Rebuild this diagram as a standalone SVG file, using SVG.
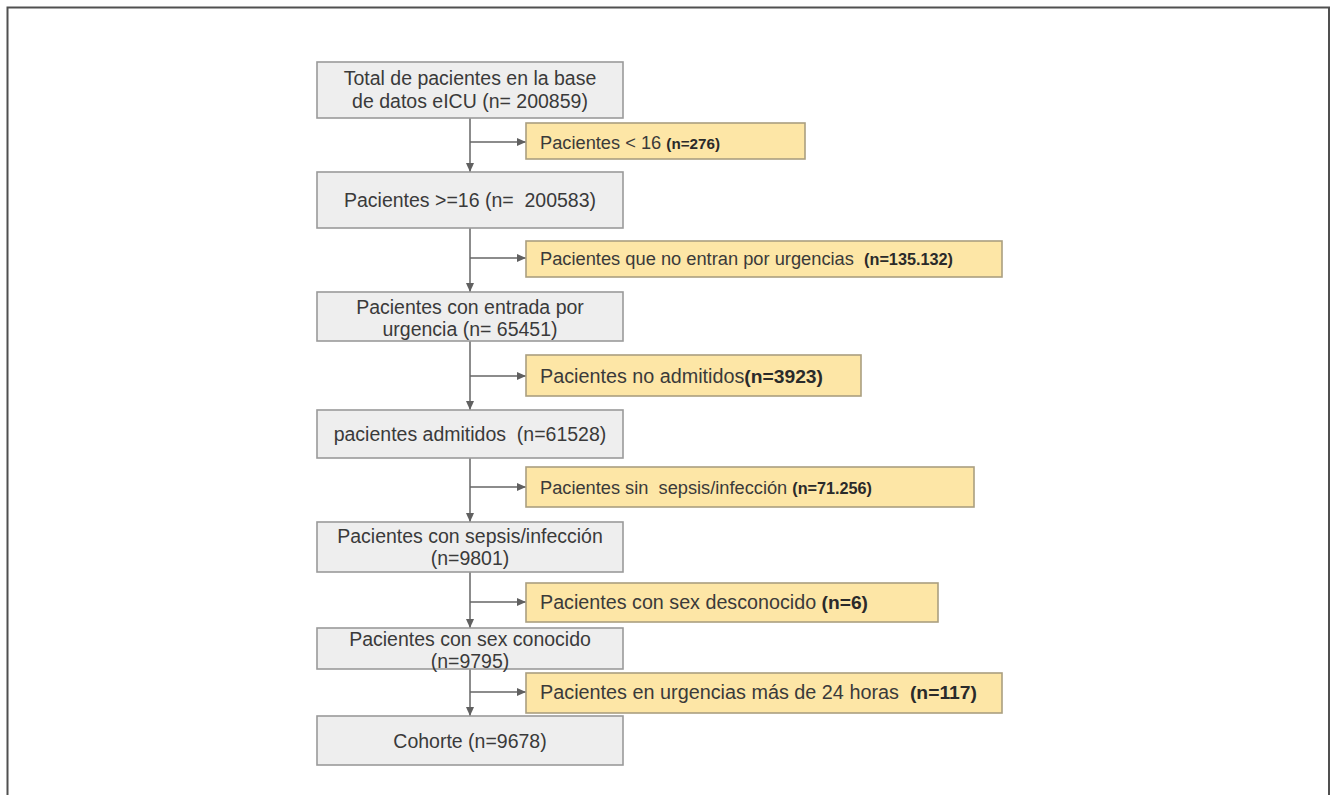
<svg xmlns="http://www.w3.org/2000/svg" width="1332" height="795" viewBox="0 0 1332 795">
<defs>
<marker id="arr" markerUnits="userSpaceOnUse" markerWidth="10" markerHeight="8" refX="9" refY="4" orient="auto">
<path d="M0,0 L9,4 L0,8 z" fill="#606060"/>
</marker>
<style>
.main rect{fill:#eeeeee;stroke:#9a9a9a;stroke-width:1.6}
.excl rect{fill:#fde6a6;stroke:#aa9f80;stroke-width:1.6}
text{font-family:"Liberation Sans",Arial,sans-serif;font-size:18px;fill:#3a3a3a}
.main text{text-anchor:middle;font-size:19.5px}
.b{font-weight:bold;fill:#2a2a2a;font-size:16px}
.big{font-size:19.5px}
.con line{stroke:#666;stroke-width:1.5;marker-end:url(#arr)}
</style>
</defs>
<rect width="1332" height="795" fill="#ffffff"/>
<path d="M7.5,800 V7.5 H1329 V800" fill="none" stroke="#505050" stroke-width="2"/>

<g id="connectors" class="con">
<line x1="470" y1="118" x2="470" y2="172"/>
<line x1="470" y1="142" x2="526" y2="142"/>
<line x1="470" y1="228" x2="470" y2="292"/>
<line x1="470" y1="258" x2="526" y2="258"/>
<line x1="470" y1="341" x2="470" y2="410"/>
<line x1="470" y1="376" x2="526" y2="376"/>
<line x1="470" y1="458" x2="470" y2="522"/>
<line x1="470" y1="487" x2="526" y2="487"/>
<line x1="470" y1="572" x2="470" y2="628"/>
<line x1="470" y1="602" x2="526" y2="602"/>
<line x1="470" y1="669" x2="470" y2="716"/>
<line x1="470" y1="692" x2="526" y2="692"/>
</g>

<g id="n1" class="main"><rect x="317" y="62" width="306" height="56"/>
<text x="470" y="85">Total de pacientes en la base</text>
<text x="470" y="108">de datos eICU (n= 200859)</text></g>
<g id="n2" class="main"><rect x="317" y="172" width="306" height="56"/>
<text x="470" y="207" xml:space="preserve">Pacientes &gt;=16 (n=  200583)</text></g>
<g id="n3" class="main"><rect x="317" y="292" width="306" height="49"/>
<text x="470" y="314">Pacientes con entrada por</text>
<text x="470" y="336">urgencia (n= 65451)</text></g>
<g id="n4" class="main"><rect x="317" y="410" width="306" height="48"/>
<text x="470" y="441" xml:space="preserve">pacientes admitidos  (n=61528)</text></g>
<g id="n5" class="main"><rect x="317" y="522" width="306" height="50"/>
<text x="470" y="543">Pacientes con sepsis/infección</text>
<text x="470" y="565">(n=9801)</text></g>
<g id="n6" class="main"><rect x="317" y="628" width="306" height="41"/>
<text x="470" y="646">Pacientes con sex conocido</text>
<text x="470" y="668">(n=9795)</text></g>
<g id="n7" class="main"><rect x="317" y="716" width="306" height="49"/>
<text x="470" y="748">Cohorte (n=9678)</text></g>

<g id="e1" class="excl"><rect x="526" y="123" width="279" height="36"/>
<text x="540" y="148.5" xml:space="preserve" textLength="180" lengthAdjust="spacingAndGlyphs">Pacientes &lt; 16 <tspan class="b" style="font-size:15px">(n=276)</tspan></text></g>
<g id="e2" class="excl"><rect x="526" y="241" width="476" height="36"/>
<text x="540" y="264.5" xml:space="preserve" textLength="413" lengthAdjust="spacingAndGlyphs">Pacientes que no entran por urgencias  <tspan class="b">(n=135.132)</tspan></text></g>
<g id="e3" class="excl"><rect x="526" y="355" width="335" height="41"/>
<text x="540" y="383" class="big" textLength="283" lengthAdjust="spacingAndGlyphs">Pacientes no admitidos<tspan class="b" style="font-size:19px">(n=3923)</tspan></text></g>
<g id="e4" class="excl"><rect x="526" y="467" width="448" height="40"/>
<text x="540" y="493.5" xml:space="preserve" textLength="332" lengthAdjust="spacingAndGlyphs">Pacientes sin  sepsis/infección <tspan class="b">(n=71.256)</tspan></text></g>
<g id="e5" class="excl"><rect x="526" y="583" width="412" height="39"/>
<text x="540" y="609" class="big" textLength="328" lengthAdjust="spacingAndGlyphs">Pacientes con sex desconocido <tspan class="b" style="font-size:19px">(n=6)</tspan></text></g>
<g id="e6" class="excl"><rect x="526" y="673" width="476" height="40"/>
<text x="540" y="699" class="big" xml:space="preserve" textLength="437" lengthAdjust="spacingAndGlyphs">Pacientes en urgencias más de 24 horas  <tspan class="b" style="font-size:19px">(n=117)</tspan></text></g>
</svg>
